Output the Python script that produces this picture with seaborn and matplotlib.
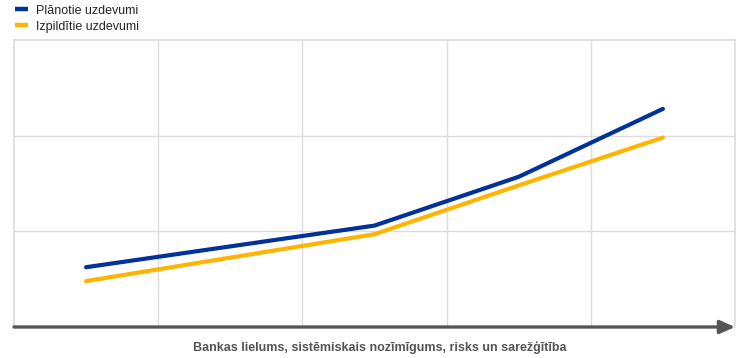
import pandas as pd
import matplotlib
matplotlib.use("Agg")
import matplotlib.pyplot as plt
import seaborn as sns

# Data (x = position along the axis, 0..5)
x_pos = [0.5, 2.5, 3.5, 4.5]
planned = [0.625, 1.06, 1.57, 2.28]
completed = [0.48, 0.97, 1.48, 1.98]
series_names = ["Plānotie uzdevumi", "Izpildītie uzdevumi"]
colors = ["#003299", "#ffb400"]
xlabel = "Bankas lielums, sistēmiskais nozīmīgums, risks un sarežģītība"

df = pd.concat([
    pd.DataFrame({"x": x_pos, "y": planned, "series": series_names[0]}),
    pd.DataFrame({"x": x_pos, "y": completed, "series": series_names[1]}),
])

sns.set_style("white")
plt.rcParams["font.family"] = ["Liberation Sans", "DejaVu Sans"]

fig = plt.figure(figsize=(7.44, 3.58), dpi=100)
ax = fig.add_axes([14 / 744, 31 / 358, 721 / 744, 287 / 358])

sns.lineplot(data=df, x="x", y="y", hue="series", palette=colors,
             linewidth=3, ax=ax, legend=False, solid_capstyle="round")

ax.set_xlim(0, 5)
ax.set_ylim(0, 3)
ax.set_xticks([1, 2, 3, 4])
ax.set_yticks([1, 2])
ax.tick_params(length=0, labelbottom=False, labelleft=False)
ax.grid(True, color="#dcdcdc", linewidth=1)
for s in ["top", "left", "right"]:
    ax.spines[s].set_color("#dcdcdc")
    ax.spines[s].set_linewidth(1.2)
ax.spines["bottom"].set_visible(False)
ax.set_xlabel("")
ax.set_ylabel("")

# x axis arrow
ax.annotate("", xy=(1.0, 0), xytext=(0, 0), xycoords="axes fraction",
            arrowprops=dict(arrowstyle="-|>,head_length=0.9,head_width=0.4",
                            color="#555555", lw=2.4, shrinkA=0, shrinkB=0),
            annotation_clip=False)

fig.text(380 / 744, 1 - 347 / 358, xlabel, ha="center", va="center",
         fontsize=9, color="#555555", fontweight="bold")

handles = [plt.Line2D([], [], color=c, linewidth=3.2, solid_capstyle="butt")
           for c in colors]
fig.legend(handles, series_names, loc="upper left", bbox_to_anchor=(0.019, 0.99),
           frameon=False, fontsize=9, handlelength=1.0, handletextpad=0.65,
           labelspacing=0.3, borderaxespad=0, borderpad=0.1)

fig.savefig("out.png", dpi=100)
